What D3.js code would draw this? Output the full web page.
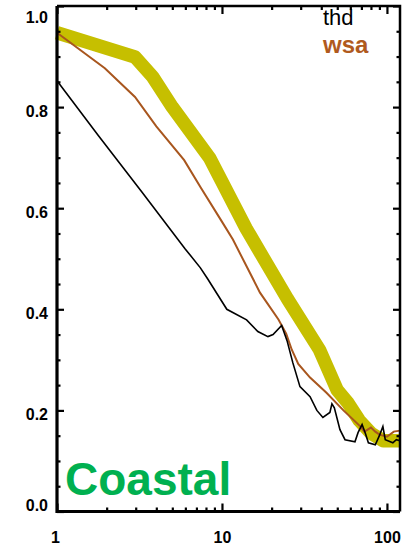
<!DOCTYPE html>
<html><head><meta charset="utf-8">
<script src="https://cdn.jsdelivr.net/npm/d3@7"></script>
<style>html,body{margin:0;padding:0;background:#fff;}svg{display:block;}</style>
</head><body>
<script>
// ---- data ----
const yellowX = [1, 2.97, 3.8, 5, 8.4, 14, 25, 39, 50, 58, 68, 80, 95, 120];
const yellowY = [0.947, 0.899, 0.86, 0.80, 0.70, 0.56, 0.42, 0.32, 0.24, 0.215, 0.18, 0.155, 0.14, 0.14];

const wsaX = [1, 1.95, 2.97, 4, 5.9, 7.4, 10.1, 11.65, 17, 22, 24.5, 26.5, 29, 34.2, 43, 54.5, 68.7, 73, 80, 85, 90, 100, 110, 120];
const wsaY = [0.947, 0.877, 0.82, 0.762, 0.695, 0.642, 0.571, 0.538, 0.433, 0.38, 0.352, 0.32, 0.292, 0.265, 0.235, 0.20, 0.169, 0.158, 0.166, 0.158, 0.152, 0.148, 0.158, 0.16];

const thdX = [1, 1.77, 3.27, 5.97, 7.4, 8.2, 10.7, 14.1, 16.5, 19, 20.4, 23, 24.8, 26.9, 29.7, 34.2, 37.6, 40.9, 45.1, 46.4, 48, 51.9, 55.7, 64, 66.8, 70.7, 73.8, 77.2, 85, 90, 94.5, 97.7, 108.6, 114, 120];
const thdY = [0.852, 0.745, 0.632, 0.52, 0.482, 0.46, 0.40, 0.379, 0.356, 0.346, 0.35, 0.368, 0.338, 0.294, 0.247, 0.227, 0.20, 0.186, 0.196, 0.213, 0.205, 0.162, 0.142, 0.138, 0.156, 0.172, 0.156, 0.136, 0.132, 0.15, 0.168, 0.142, 0.136, 0.142, 0.14];

const yMajor = [0, 0.2, 0.4, 0.6, 0.8, 1.0];
const yMinor = [0.05, 0.1, 0.15, 0.25, 0.3, 0.35, 0.45, 0.5, 0.55, 0.65, 0.7, 0.75, 0.85, 0.9, 0.95];
const xMajor = [1, 10, 100];
const xMinor = [2, 3, 4, 5, 6, 7, 8, 9, 20, 30, 40, 50, 60, 70, 80, 90];
const legendLabels = ["thd", "wsa"];
const panelLabel = "Coastal";

// ---- drawing ----
const W = 406, H = 546;
const svg = d3.select("body").append("svg").attr("width", W).attr("height", H)
  .style("background", "#fff");

const x = d3.scaleLog().domain([1, 120]).range([57, 400]);
const y = d3.scaleLinear().domain([0, 1]).range([511.5, 6]);

const font = "'Liberation Sans', Arial, Helvetica, sans-serif";

function series(xs, ys) { return xs.map((v, i) => [v, ys[i]]); }
const line = d3.line().x(d => x(d[0])).y(d => y(d[1]));

svg.append("path").datum(series(yellowX, yellowY)).attr("d", line)
  .attr("fill", "none").attr("stroke", "#c6bf00").attr("stroke-width", 13.5)
  .attr("stroke-linejoin", "round");
svg.append("path").datum(series(wsaX, wsaY)).attr("d", line)
  .attr("fill", "none").attr("stroke", "#a8561e").attr("stroke-width", 2);
svg.append("path").datum(series(thdX, thdY)).attr("d", line)
  .attr("fill", "none").attr("stroke", "#000").attr("stroke-width", 1.6);

// axes: major ticks with labels
const [x0, x1] = x.range();
const [yb, yt] = y.range();

function styleAxis(g) {
  g.select(".domain").remove();
  g.selectAll(".tick line").attr("stroke", "#000").attr("stroke-width", 2.2);
  g.selectAll("text").attr("font-family", font).attr("font-weight", "bold")
    .attr("font-size", 16).attr("fill", "#000");
}

// left
const left = svg.append("g").attr("transform", `translate(${x0},0)`)
  .call(d3.axisLeft(y).tickValues(yMajor).tickSize(-7).tickPadding(9).tickFormat(d3.format(".1f")))
  .call(styleAxis);
left.selectAll(".tick text").attr("dy", null).attr("y", d => {
  const c = Math.max(17, Math.min(505, y(d) + 4));
  return c - y(d) + 5.5;
});
svg.append("g").attr("transform", `translate(${x0},0)`)
  .call(d3.axisLeft(y).tickValues(yMinor).tickSize(-3.5).tickFormat(""))
  .call(styleAxis);
// right
svg.append("g").attr("transform", `translate(${x1},0)`)
  .call(d3.axisRight(y).tickValues(yMajor).tickSize(-7).tickFormat(""))
  .call(styleAxis);
svg.append("g").attr("transform", `translate(${x1},0)`)
  .call(d3.axisRight(y).tickValues(yMinor).tickSize(-3.5).tickFormat(""))
  .call(styleAxis);
// bottom
const bottom = svg.append("g").attr("transform", `translate(0,${yb})`)
  .call(d3.axisBottom(x).tickValues(xMajor).tickSize(-8).tickFormat(d3.format("d")))
  .call(styleAxis);
bottom.selectAll(".tick text").attr("dy", null).attr("y", 31.5).attr("x", d => d === 1 ? -2 : 0);
svg.append("g").attr("transform", `translate(0,${yb})`)
  .call(d3.axisBottom(x).tickValues(xMinor).tickSize(-4).tickFormat(""))
  .call(styleAxis);
// top
svg.append("g").attr("transform", `translate(0,${yt})`)
  .call(d3.axisTop(x).tickValues(xMajor).tickSize(-8).tickFormat(""))
  .call(styleAxis);
svg.append("g").attr("transform", `translate(0,${yt})`)
  .call(d3.axisTop(x).tickValues(xMinor).tickSize(-4).tickFormat(""))
  .call(styleAxis);

// frame
svg.append("path")
  .attr("d", `M${x0},${yt}H${x1}V${yb}`)
  .attr("fill", "none").attr("stroke", "#000").attr("stroke-width", 2.5);
svg.append("path")
  .attr("d", `M${x0},${yt}V${yb}H${x1}`)
  .attr("fill", "none").attr("stroke", "#000").attr("stroke-width", 3.2);

// legend
svg.append("text").attr("x", 323).attr("y", 25).text(legendLabels[0])
  .attr("font-family", font).attr("font-size", 22).attr("fill", "#000");
svg.append("text").attr("x", 323).attr("y", 53).text(legendLabels[1])
  .attr("font-family", font).attr("font-size", 24).attr("font-weight", "bold").attr("fill", "#b05a1e");

// panel label
svg.append("text").attr("x", 65).attr("y", 495).text(panelLabel)
  .attr("font-family", font).attr("font-size", 46).attr("font-weight", "bold").attr("fill", "#00b050");
</script>
</body></html>
